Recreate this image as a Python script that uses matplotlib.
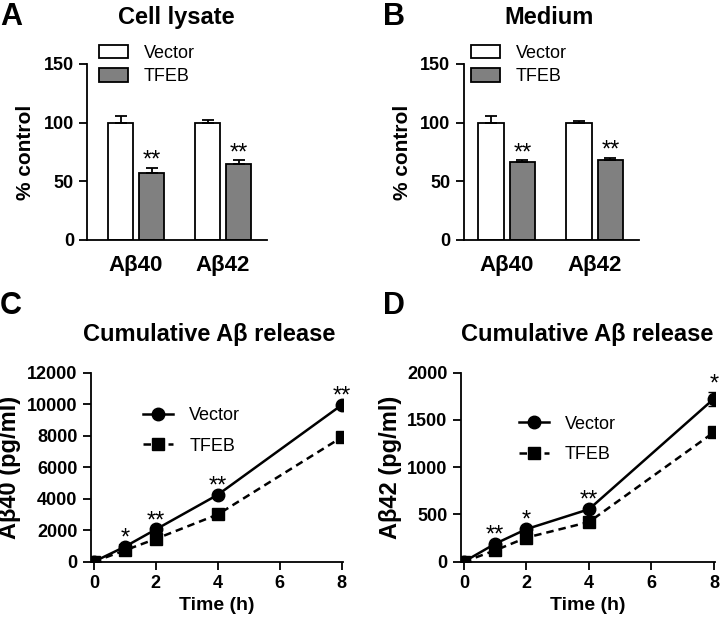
import matplotlib
matplotlib.use("Agg")
import matplotlib.pyplot as plt
from matplotlib.lines import Line2D
import numpy as np

plt.rcParams['font.family'] = ['Liberation Sans', 'DejaVu Sans']

# bar data (% control)
groups = ['A\u03b240', 'A\u03b242']
lysate_vector = [100, 100]
lysate_vector_err = [6, 2]
lysate_tfeb = [57, 65]
lysate_tfeb_err = [4.5, 3]
medium_vector = [100, 100]
medium_vector_err = [6, 1.5]
medium_tfeb = [66.5, 68]
medium_tfeb_err = [1.5, 2]
bar_stars = ['**', '**']

# time course data
time_h = [0, 1, 2, 4, 8]
ab40_vector = [0, 950, 2050, 4250, 9950]
ab40_vector_err = [0, 60, 80, 100, 120]
ab40_tfeb = [0, 720, 1450, 3000, 7900]
ab40_tfeb_err = [0, 50, 70, 90, 150]
ab40_stars = ['', '*', '**', '**', '**']
ab42_vector = [0, 190, 345, 555, 1725]
ab42_vector_err = [0, 10, 15, 20, 75]
ab42_tfeb = [0, 120, 255, 420, 1370]
ab42_tfeb_err = [0, 8, 12, 15, 50]
ab42_stars = ['', '**', '*', '**', '*']

fig = plt.figure(figsize=(7.2, 6.2), dpi=100)

tick_fs = 13
bold = 'bold'


def bar_panel(rect, vec, vec_err, tfeb, tfeb_err, title, title_x, letter,
              letter_x, xlim, leg_anchor):
    ax = fig.add_axes(rect)
    x = np.arange(len(groups))
    w = 0.29
    off = 0.178
    ax.bar(x - off, vec, w, color='white', edgecolor='black', linewidth=1.3,
           yerr=[np.zeros(len(vec)), vec_err], capsize=4.5,
           error_kw=dict(elinewidth=1.3, capthick=1.3), label='Vector', zorder=2)
    ax.bar(x + off, tfeb, w, color='#808080', edgecolor='black', linewidth=1.3,
           yerr=[np.zeros(len(tfeb)), tfeb_err], capsize=4.5,
           error_kw=dict(elinewidth=1.3, capthick=1.3), label='TFEB', zorder=2)
    for i in range(len(x)):
        ax.annotate(bar_stars[i], (x[i] + off, tfeb[i] + tfeb_err[i]),
                    xytext=(0, -3), textcoords='offset points',
                    ha='center', va='bottom', fontsize=17)
    ax.set_xlim(*xlim)
    ax.set_ylim(0, 150)
    ax.set_yticks([0, 50, 100, 150])
    ax.set_xticks(x)
    ax.set_xticklabels(groups, fontsize=16, fontweight=bold)
    ax.tick_params(axis='x', length=0, pad=11)
    ax.tick_params(axis='y', labelsize=tick_fs, width=1.3, length=6)
    for t in ax.get_yticklabels():
        t.set_fontweight(bold)
    ax.set_ylabel('% control', fontsize=15, fontweight=bold, labelpad=6)
    for s in ['top', 'right']:
        ax.spines[s].set_visible(False)
    for s in ['left', 'bottom']:
        ax.spines[s].set_linewidth(1.3)
    ax.legend(loc='upper left', bbox_to_anchor=leg_anchor, frameon=False,
              fontsize=13, handlelength=1.6, handleheight=0.8,
              labelspacing=0.35, handletextpad=0.9, borderaxespad=0)
    fig.text(title_x, 0.972, title, fontsize=17, fontweight=bold,
             ha='center', va='center')
    fig.text(letter_x, 0.997, letter, fontsize=22, fontweight=bold,
             ha='left', va='top')
    return ax


def line_panel(rect, t, vec, vec_err, tfeb, tfeb_err, stars, ylim, yticks,
               ylabel, letter, letter_x, title_x, leg_anchor):
    ax = fig.add_axes(rect)
    ax.errorbar(t, vec, yerr=vec_err, color='black', linestyle='-', marker='o',
                markersize=9, linewidth=1.8, capsize=4, elinewidth=1.3, zorder=3)
    ax.errorbar(t, tfeb, yerr=tfeb_err, color='black', linestyle='--', marker='s',
                markersize=8, linewidth=1.8, capsize=4, elinewidth=1.3,
                dashes=(3, 2), zorder=3)
    for i in range(len(t)):
        if stars[i]:
            ax.annotate(stars[i], (t[i], vec[i] + vec_err[i]),
                        xytext=(0, -3), textcoords='offset points',
                        ha='center', va='bottom', fontsize=17)
    ax.set_xlim(-0.1, 8.03)
    ax.set_ylim(*ylim)
    ax.set_xticks([0, 2, 4, 6, 8])
    ax.set_yticks(yticks)
    ax.tick_params(labelsize=tick_fs, width=1.3, length=6)
    for tl in ax.get_xticklabels() + ax.get_yticklabels():
        tl.set_fontweight(bold)
    ax.set_xlabel('Time (h)', fontsize=14, fontweight=bold)
    ax.set_ylabel(ylabel, fontsize=17, fontweight=bold, labelpad=4)
    fig.text(title_x, 0.461, 'Cumulative A\u03b2 release', fontsize=17,
             fontweight=bold, ha='center', va='center')
    for s in ['top', 'right']:
        ax.spines[s].set_visible(False)
    for s in ['left', 'bottom']:
        ax.spines[s].set_linewidth(1.3)
    handles = [Line2D([], [], color='black', linestyle='-', marker='o',
                      markersize=9, linewidth=1.8),
               Line2D([], [], color='black', linestyle='--', marker='s',
                      markersize=8, linewidth=1.8, dashes=(3, 2))]
    ax.legend(handles, ['Vector', 'TFEB'], loc='upper left',
              bbox_to_anchor=leg_anchor, frameon=False, fontsize=13,
              handlelength=1.65, labelspacing=0.75, handletextpad=0.9,
              borderaxespad=0)
    fig.text(letter_x, 0.531, letter, fontsize=22, fontweight=bold,
             ha='left', va='top')
    return ax


bar_panel([0.121, 0.613, 0.25, 0.284], lysate_vector, lysate_vector_err,
          lysate_tfeb, lysate_tfeb_err, 'Cell lysate', 0.245, 'A', 0.0,
          (-0.563, 1.506), (0.025, 1.15))
bar_panel([0.644, 0.613, 0.243, 0.284], medium_vector, medium_vector_err,
          medium_tfeb, medium_tfeb_err, 'Medium', 0.762, 'B', 0.532,
          (-0.49, 1.5), (0.0, 1.15))
line_panel([0.126, 0.094, 0.35, 0.305], time_h, ab40_vector, ab40_vector_err,
           ab40_tfeb, ab40_tfeb_err, ab40_stars, (0, 12000),
           [0, 2000, 4000, 6000, 8000, 10000, 12000], 'A\u03b240 (pg/ml)',
           'C', 0.0, 0.29, (0.18, 0.855))
line_panel([0.64, 0.094, 0.353, 0.305], time_h, ab42_vector, ab42_vector_err,
           ab42_tfeb, ab42_tfeb_err, ab42_stars, (0, 2000),
           [0, 500, 1000, 1500, 2000], 'A\u03b242 (pg/ml)', 'D', 0.532, 0.815,
           (0.2, 0.81))

fig.savefig('out.png', dpi=100)
